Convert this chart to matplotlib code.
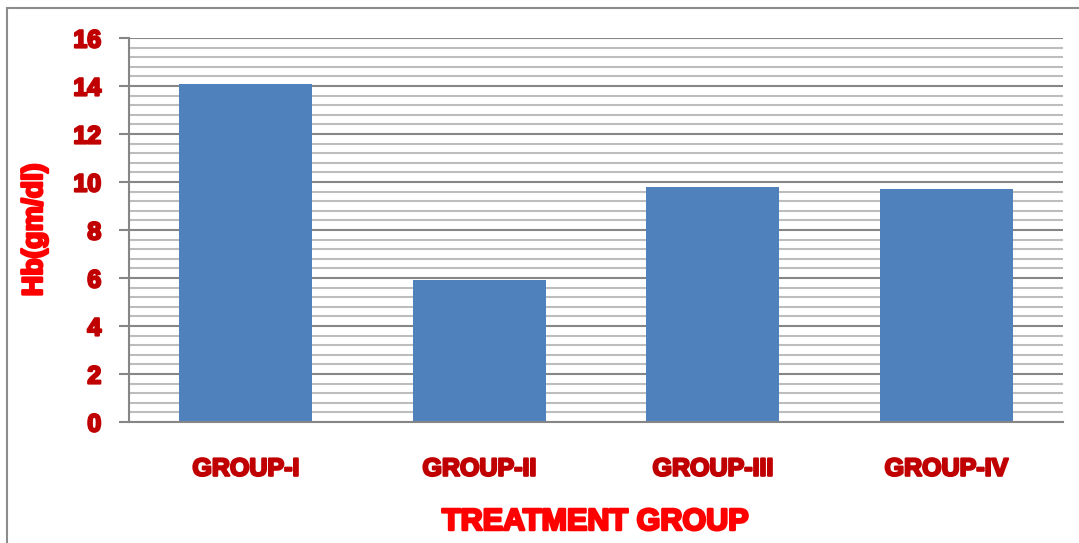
import matplotlib
matplotlib.use("Agg")
import matplotlib.pyplot as plt
import matplotlib.patheffects as pe
from matplotlib.patches import Rectangle
import numpy as np

groups = ["GROUP-I", "GROUP-II", "GROUP-III", "GROUP-IV"]
hb_values = [14.1, 5.9, 9.8, 9.7]
y_ticks = [0, 2, 4, 6, 8, 10, 12, 14, 16]

plt.rcParams["font.family"] = ["Liberation Sans", "DejaVu Sans"]

W, H = 1079, 543
fig = plt.figure(figsize=(W / 100, H / 100), dpi=100)

# chart area frame
fig.patches.append(Rectangle((7 / W, -0.05), 1.1, 1 - 8 / H + 0.05,
                             transform=fig.transFigure, fill=False,
                             edgecolor="#8c8c8c", linewidth=1.5))

ax = fig.add_axes([129 / W, 1 - 422 / H, (1063 - 129) / W, (422 - 38) / H])

x = np.arange(len(groups))
ax.bar(x, hb_values, width=0.57, color="#4F81BD", zorder=3)

ax.set_xlim(-0.5, len(groups) - 0.5)
ax.set_ylim(0, 16)
ax.set_yticks(y_ticks)
ax.set_yticks(np.arange(0, 16.01, 0.4), minor=True)

ax.grid(axis="y", which="major", color="#868686", linewidth=1.5, zorder=1)
ax.grid(axis="y", which="minor", color="#bdbdbd", linewidth=1.5, zorder=0)

for s in ["top", "right"]:
    ax.spines[s].set_visible(False)
for s in ["left", "bottom"]:
    ax.spines[s].set_color("#868686")
    ax.spines[s].set_linewidth(1.5)
    ax.spines[s].set_zorder(4)

ax.tick_params(axis="y", which="major", length=7, width=1.5, color="#868686",
               labelsize=18, labelcolor="#C00000", pad=13)
ax.tick_params(axis="y", which="minor", length=0)
ax.tick_params(axis="x", length=0, labelsize=18, labelcolor="#C00000", pad=25)

ax.set_xticks(x)
ax.set_xticklabels(groups)

# heavy lettering
def heavy(color, w=1.6):
    return [pe.withStroke(linewidth=w, foreground=color)]

for lbl in ax.get_yticklabels():
    lbl.set_fontweight("bold")
    lbl.set_path_effects(heavy("#C00000"))
for lbl in ax.get_xticklabels():
    lbl.set_fontweight("bold")
    lbl.set_path_effects(heavy("#C00000"))

fig.text(35 / W, 1 - 230 / H, "Hb(gm/dl)", rotation=90, color="#FF0000",
         fontsize=20.5, fontweight="bold", ha="center", va="center",
         path_effects=heavy("#FF0000", 1.8))
fig.text(595 / W, 1 - 522 / H, "TREATMENT GROUP", color="#FF0000",
         fontsize=22, fontweight="bold", ha="center", va="center",
         path_effects=heavy("#FF0000", 1.8))

fig.savefig("out.png", dpi=100)
